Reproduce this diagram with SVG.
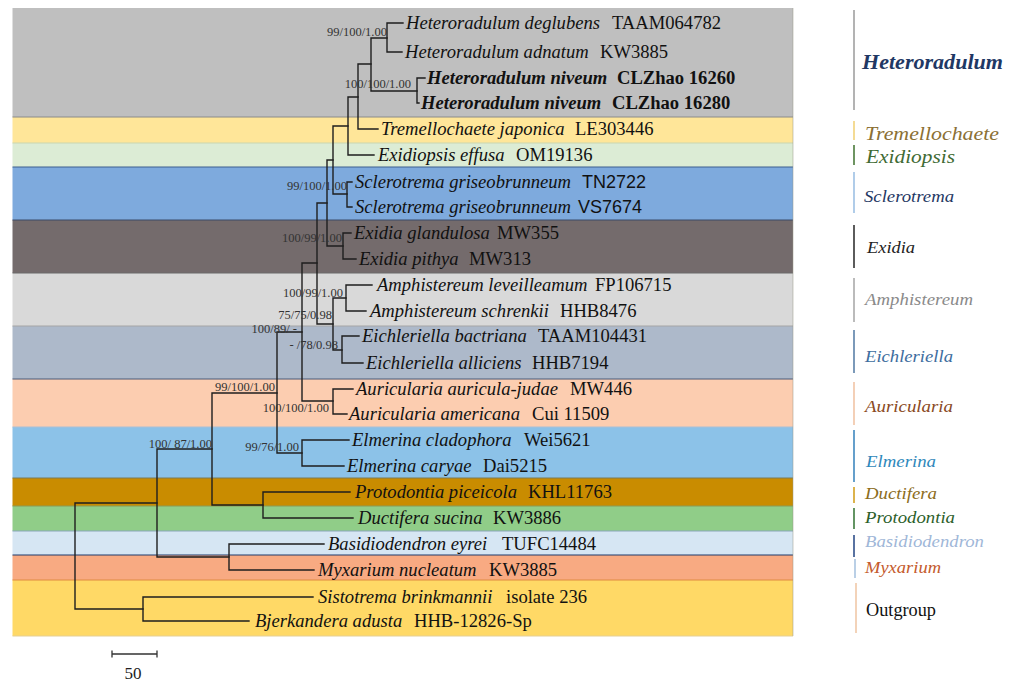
<svg xmlns="http://www.w3.org/2000/svg" width="1015" height="682" viewBox="0 0 1015 682">
<style>
text{font-family:"Liberation Serif","Times New Roman",serif;}
.t{font-size:18.6px;font-style:italic;fill:#111;}
.v{font-size:18.6px;fill:#111;}
.sv{font-family:"Liberation Sans",Arial,sans-serif;font-size:18px;fill:#111;}
.b{font-weight:bold;}
.s{font-size:12.5px;fill:#333;text-anchor:end;}
.br{stroke:#1e1e1e;stroke-width:1.4;fill:none;stroke-linecap:square;}
.lg{stroke-width:1.6;}
.li{font-style:italic;}
</style>
<rect width="1015" height="682" fill="#ffffff"/>
<g id="bands">
<rect x="12.5" y="8" width="780.5" height="109" fill="#bfbfbf"/>
<rect x="12.5" y="117" width="780.5" height="26" fill="#ffe699"/>
<rect x="12.5" y="143" width="780.5" height="24" fill="#dcecd5"/>
<rect x="12.5" y="167" width="780.5" height="53" fill="#7eaadd"/>
<rect x="12.5" y="220" width="780.5" height="53" fill="#746b6c"/>
<rect x="12.5" y="273" width="780.5" height="53" fill="#d9d9d9"/>
<rect x="12.5" y="326" width="780.5" height="53" fill="#adb9ca"/>
<rect x="12.5" y="379" width="780.5" height="48" fill="#fccdb0"/>
<rect x="12.5" y="427" width="780.5" height="51" fill="#8cc2e8"/>
<rect x="12.5" y="478" width="780.5" height="28" fill="#c98c00"/>
<rect x="12.5" y="506" width="780.5" height="25" fill="#90cd88"/>
<rect x="12.5" y="531" width="780.5" height="24" fill="#d6e6f3"/>
<rect x="12.5" y="555" width="780.5" height="25" fill="#f8aa82"/>
<rect x="12.5" y="580" width="780.5" height="56" fill="#ffd966"/>
<g stroke-width="1" fill="none">
<path d="M12.5 117H793" stroke="#8a8a8a"/>
<path d="M12.5 143H793" stroke="#c9d6b0"/>
<path d="M12.5 167H793" stroke="#3d5f8f"/>
<path d="M12.5 220H793" stroke="#3a4a66"/>
<path d="M12.5 273H793" stroke="#6b6b6b"/>
<path d="M12.5 326H793" stroke="#a5a5a5"/>
<path d="M12.5 379H793" stroke="#4a5a78"/>
<path d="M12.5 427H793" stroke="#a9bfd6"/>
<path d="M12.5 478H793" stroke="#7d7a55"/>
<path d="M12.5 506H793" stroke="#8a9a55"/>
<path d="M12.5 531H793" stroke="#8aa6b8"/>
<path d="M12.5 555H793" stroke="#1f3a6a"/>
<path d="M12.5 580H793" stroke="#e08a40"/>
<path d="M12.5 636H793" stroke="#e5cf95"/>
<path d="M793 8V636" stroke="#9a9a8a" stroke-opacity="0.5"/>
</g>
</g>
<g id="connectors" class="br">
<path d="M75 503V609M75 503H157M75 609H143"/>
<path d="M143 597V621M143 597H313M143 621H249"/>
<path d="M157 449V557M157 449H212M157 557H229"/>
<path d="M229 544V570M229 544H324M229 570H314"/>
<path d="M212 393V505M212 393H277M212 505H263"/>
<path d="M263 492V518M263 492H350M263 518H353"/>
<path d="M277 332V453M277 332H302M277 453H302"/>
<path d="M302 440V466M302 440H349M302 466H344"/>
<path d="M302 263V401M302 263H317M302 401H333"/>
<path d="M333 389V414M333 389H353M333 414H347"/>
<path d="M317 203V324M317 203H327M317 324H333"/>
<path d="M333 298V350M333 298H346M333 350H342"/>
<path d="M346 285V311M346 285H372M346 311H366"/>
<path d="M342 336V363M342 336H359M342 363H363"/>
<path d="M327 160V246M327 160H333M327 246H343"/>
<path d="M343 233V259M343 233H351M343 259H356"/>
<path d="M333 126V194M333 126H348M333 194H347"/>
<path d="M347 182V207M347 182H352M347 207H352"/>
<path d="M348 97V155M348 97H358M348 155H374"/>
<path d="M358 64V129M358 64H371M358 129H378"/>
<path d="M371 38V91M371 38H387M371 91H417"/>
<path d="M387 23V52M387 23H403M387 52H402"/>
<path d="M417 78V103M417 78H425M417 103H419"/>
</g>
<g id="taxa">
<g id="t1"><text class="t" x="406" y="29">Heteroradulum deglubens</text><text class="v" x="612" y="29">TAAM064782</text></g>
<g id="t2"><text class="t" x="405" y="58">Heteroradulum adnatum</text><text class="v" x="600" y="58">KW3885</text></g>
<g id="t3"><text class="t b" x="427" y="84">Heteroradulum niveum</text><text class="v b" x="617" y="84">CLZhao 16260</text></g>
<g id="t4"><text class="t b" x="421" y="109">Heteroradulum niveum</text><text class="v b" x="612" y="109">CLZhao 16280</text></g>
<g id="t5"><text class="t" x="381" y="135">Tremellochaete japonica</text><text class="v" x="575" y="135">LE303446</text></g>
<g id="t6"><text class="t" x="378" y="161">Exidiopsis effusa</text><text class="v" x="516" y="161">OM19136</text></g>
<g id="t7"><text class="t" x="355" y="188">Sclerotrema griseobrunneum</text><text class="sv" x="582" y="188">TN2722</text></g>
<g id="t8"><text class="t" x="355" y="213">Sclerotrema griseobrunneum</text><text class="sv" x="578" y="213">VS7674</text></g>
<g id="t9"><text class="t" x="354" y="239">Exidia glandulosa</text><text class="v" x="497" y="239">MW355</text></g>
<g id="t10"><text class="t" x="359" y="265">Exidia pithya</text><text class="v" x="469" y="265">MW313</text></g>
<g id="t11"><text class="t" x="377" y="291">Amphistereum leveilleamum</text><text class="v" x="595" y="291">FP106715</text></g>
<g id="t12"><text class="t" x="370" y="317">Amphistereum schrenkii</text><text class="v" x="560" y="317">HHB8476</text></g>
<g id="t13"><text class="t" x="362" y="342">Eichleriella bactriana</text><text class="v" x="538" y="342">TAAM104431</text></g>
<g id="t14"><text class="t" x="366" y="369">Eichleriella alliciens</text><text class="v" x="532" y="369">HHB7194</text></g>
<g id="t15"><text class="t" x="356" y="395">Auricularia auricula-judae</text><text class="v" x="570" y="395">MW446</text></g>
<g id="t16"><text class="t" x="349" y="420">Auricularia americana</text><text class="v" x="532" y="420">Cui 11509</text></g>
<g id="t17"><text class="t" x="352" y="446">Elmerina cladophora</text><text class="v" x="524" y="446">Wei5621</text></g>
<g id="t18"><text class="t" x="347" y="472">Elmerina caryae</text><text class="v" x="483" y="472">Dai5215</text></g>
<g id="t19"><text class="t" x="355" y="498">Protodontia piceicola</text><text class="v" x="528" y="498">KHL11763</text></g>
<g id="t20"><text class="t" x="358" y="524">Ductifera sucina</text><text class="v" x="493" y="524">KW3886</text></g>
<g id="t21"><text class="t" x="328" y="550">Basidiodendron eyrei</text><text class="v" x="502" y="550">TUFC14484</text></g>
<g id="t22"><text class="t" x="318" y="576">Myxarium nucleatum</text><text class="v" x="489" y="576">KW3885</text></g>
<g id="t23"><text class="t" x="318" y="603">Sistotrema brinkmannii</text><text class="v" x="506" y="603">isolate 236</text></g>
<g id="t24"><text class="t" x="255" y="627">Bjerkandera adusta</text><text class="v" x="414" y="627">HHB-12826-Sp</text></g>
</g>
<g id="support">
<text class="s" x="387" y="36">99/100/1.00</text>
<text class="s" x="411" y="88">100/100/1.00</text>
<text class="s" x="347" y="190">99/100/1.00</text>
<text class="s" x="342" y="242">100/99/1.00</text>
<text class="s" x="343" y="297">100/99/1.00</text>
<text class="s" x="332" y="319">75/75/0.98</text>
<text class="s" x="297" y="333">100/89/ -</text>
<text class="s" x="338" y="349">- /78/0.98</text>
<text class="s" x="275" y="391">99/100/1.00</text>
<text class="s" x="329" y="412">100/100/1.00</text>
<text class="s" x="299" y="451">99/76/1.00</text>
<text class="s" x="212" y="448">100/ 87/1.00</text>
</g>
<g id="scalebar">
<path d="M112 654H157M112 650.5V657.5M157 650.5V657.5" stroke="#333" stroke-width="1.3" fill="none"/>
<text x="133" y="679" font-size="17" text-anchor="middle" fill="#222">50</text>
</g>
<g id="legend">
<g id="lg-heteroradulum"><path class="lg" d="M854 10V110" stroke="#a0a0a0"/><text x="862" y="69" font-size="20" font-weight="bold" font-style="italic" fill="#1f3864" textLength="141" lengthAdjust="spacingAndGlyphs">Heteroradulum</text></g>
<g id="lg-tremellochaete"><path class="lg" d="M854 121V140" stroke="#f2d27a"/><text class="li" x="865" y="140" font-size="19" fill="#8b7034" textLength="134" lengthAdjust="spacingAndGlyphs">Tremellochaete</text></g>
<g id="lg-exidiopsis"><path class="lg" d="M854 145V165" stroke="#4a7a3a"/><text class="li" x="866" y="163" font-size="19" fill="#3f6b34" textLength="89" lengthAdjust="spacingAndGlyphs">Exidiopsis</text></g>
<g id="lg-sclerotrema"><path class="lg" d="M854 172V213" stroke="#9dc0e4"/><text class="li" x="864" y="202" font-size="16" fill="#1f3864" textLength="90" lengthAdjust="spacingAndGlyphs">Sclerotrema</text></g>
<g id="lg-exidia"><path class="lg" d="M854 225V268" stroke="#333"/><text class="li" x="867" y="253" font-size="16" fill="#222" textLength="48" lengthAdjust="spacingAndGlyphs">Exidia</text></g>
<g id="lg-amphistereum"><path class="lg" d="M854 278V322" stroke="#aaaaaa"/><text class="li" x="865" y="305" font-size="16" fill="#8a8a8a" textLength="108" lengthAdjust="spacingAndGlyphs">Amphistereum</text></g>
<g id="lg-eichleriella"><path class="lg" d="M854 330V373" stroke="#5b80a8"/><text class="li" x="865" y="362" font-size="17" fill="#3d6d9e" textLength="88" lengthAdjust="spacingAndGlyphs">Eichleriella</text></g>
<g id="lg-auricularia"><path class="lg" d="M854 382V425" stroke="#f1c4a5"/><text class="li" x="865" y="412" font-size="17" fill="#8a4a24" textLength="88" lengthAdjust="spacingAndGlyphs">Auricularia</text></g>
<g id="lg-elmerina"><path class="lg" d="M854 430V482" stroke="#3f88bf"/><text class="li" x="866" y="467" font-size="17" fill="#2f88bb" textLength="70" lengthAdjust="spacingAndGlyphs">Elmerina</text></g>
<g id="lg-ductifera"><path class="lg" d="M854 487V503" stroke="#d4a020"/><text class="li" x="865" y="499" font-size="17" fill="#8c6d1c" textLength="72" lengthAdjust="spacingAndGlyphs">Ductifera</text></g>
<g id="lg-protodontia"><path class="lg" d="M854 508V529" stroke="#3d7a3d"/><text class="li" x="865" y="523" font-size="17" fill="#2c5e2a" textLength="90" lengthAdjust="spacingAndGlyphs">Protodontia</text></g>
<g id="lg-basidiodendron"><path class="lg" d="M854 535V557" stroke="#2f4f8a"/><text class="li" x="865" y="547" font-size="17" fill="#9fb7d8" textLength="119" lengthAdjust="spacingAndGlyphs">Basidiodendron</text></g>
<g id="lg-myxarium"><path class="lg" d="M855 559V578" stroke="#a9c4e0"/><text class="li" x="865" y="573" font-size="17" fill="#c45a2c" textLength="76" lengthAdjust="spacingAndGlyphs">Myxarium</text></g>
<g id="lg-outgroup"><path class="lg" d="M856 583V633" stroke="#f0c8a8"/><text x="866" y="616" font-size="18" fill="#111" textLength="70" lengthAdjust="spacingAndGlyphs">Outgroup</text></g>
</g>
</svg>
